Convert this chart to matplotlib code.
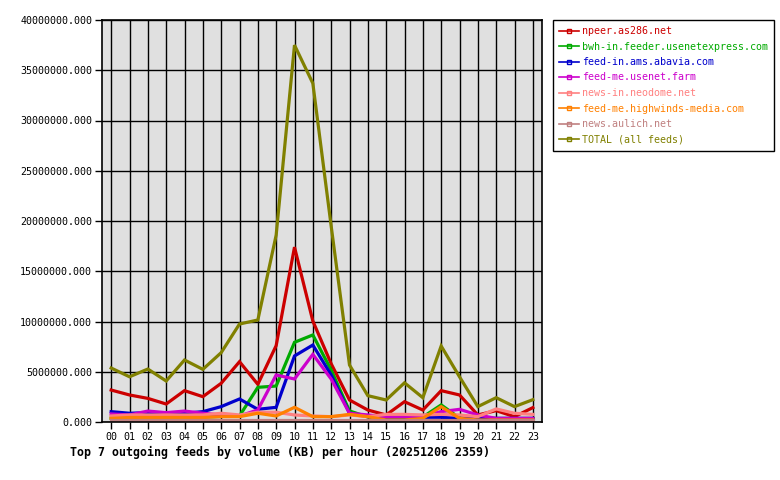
import matplotlib
matplotlib.use("Agg")
import matplotlib.pyplot as plt

hours = ["%02d" % h for h in range(24)]

feeds = [
    "npeer.as286.net",
    "bwh-in.feeder.usenetexpress.com",
    "feed-in.ams.abavia.com",
    "feed-me.usenet.farm",
    "news-in.neodome.net",
    "feed-me.highwinds-media.com",
    "news.aulich.net",
    "TOTAL (all feeds)",
]
colors = ["#cc0000", "#00aa00", "#0000cc", "#cc00cc", "#ff8080", "#ff8000", "#c08080", "#808000"]

npeer = [3.18e6, 2.69e6, 2.35e6, 1.79e6, 3.12e6, 2.52e6, 3.85e6, 6.0e6, 3.75e6, 7.6e6, 17.4e6, 10.05e6,
         5.8e6, 2.19e6, 1.19e6, 0.7e6, 2.02e6, 1.19e6, 3.12e6, 2.69e6, 0.7e6, 1.13e6, 0.53e6, 1.43e6]
bwh = [0.38e6, 0.36e6, 0.36e6, 0.36e6, 0.7e6, 0.5e6, 0.55e6, 0.6e6, 3.45e6, 3.58e6, 7.93e6, 8.66e6,
       5.17e6, 1.1e6, 0.5e6, 0.4e6, 0.45e6, 0.5e6, 1.7e6, 0.4e6, 0.45e6, 0.35e6, 0.35e6, 0.35e6]
abavia = [1.03e6, 0.87e6, 0.93e6, 0.87e6, 0.87e6, 1.03e6, 1.53e6, 2.29e6, 1.26e6, 1.46e6, 6.57e6, 7.66e6,
          4.68e6, 0.87e6, 0.53e6, 0.47e6, 0.5e6, 0.47e6, 0.47e6, 0.36e6, 0.36e6, 0.36e6, 0.36e6, 0.36e6]
usenetfarm = [0.8e6, 0.7e6, 1.09e6, 0.93e6, 1.09e6, 0.87e6, 0.7e6, 0.6e6, 1.2e6, 4.68e6, 4.28e6, 6.73e6,
              4.28e6, 0.87e6, 0.7e6, 0.53e6, 0.53e6, 0.6e6, 1.03e6, 1.26e6, 0.7e6, 0.36e6, 0.36e6, 0.36e6]
neodome = [0.6e6, 0.7e6, 0.7e6, 0.7e6, 0.7e6, 0.7e6, 0.87e6, 0.7e6, 0.97e6, 0.97e6, 0.7e6, 0.6e6,
           0.53e6, 0.7e6, 0.53e6, 0.76e6, 0.76e6, 0.7e6, 0.76e6, 0.7e6, 0.53e6, 1.3e6, 0.87e6, 0.76e6]
highwinds = [0.36e6, 0.45e6, 0.45e6, 0.45e6, 0.45e6, 0.45e6, 0.53e6, 0.53e6, 0.87e6, 0.6e6, 1.46e6, 0.53e6,
             0.53e6, 0.76e6, 0.53e6, 0.2e6, 0.2e6, 0.36e6, 1.53e6, 0.36e6, 0.2e6, 0.2e6, 0.2e6, 0.2e6]
aulich = [0.2e6, 0.2e6, 0.2e6, 0.2e6, 0.2e6, 0.2e6, 0.2e6, 0.2e6, 0.2e6, 0.2e6, 0.2e6, 0.2e6,
          0.2e6, 0.2e6, 0.2e6, 0.2e6, 0.2e6, 0.2e6, 0.2e6, 0.2e6, 0.2e6, 0.2e6, 0.2e6, 0.2e6]
total = [5.37e6, 4.5e6, 5.27e6, 4.08e6, 6.17e6, 5.24e6, 6.9e6, 9.75e6, 10.15e6, 18.6e6, 37.5e6, 33.7e6,
         19.5e6, 5.67e6, 2.62e6, 2.19e6, 3.9e6, 2.42e6, 7.56e6, 4.5e6, 1.53e6, 2.42e6, 1.53e6, 2.22e6]

series = [npeer, bwh, abavia, usenetfarm, neodome, highwinds, aulich, total]

plt.rcParams['font.family'] = ['DejaVu Sans Mono']

fig = plt.figure(figsize=(7.8, 4.8), dpi=100)
ax = fig.add_axes([102 / 780, 58 / 480, 440 / 780, 402 / 480])
ax.set_facecolor("#e0e0e0")

x = list(range(24))
for name, vals, c in zip(feeds, series, colors):
    ax.plot(x, vals, color=c, lw=2.3, solid_joinstyle="miter", label=name)

ax.set_xlim(-0.5, 23.5)
ax.set_ylim(0, 40e6)
ax.set_xticks(x)
ax.set_xticklabels(hours)
yt = [i * 5e6 for i in range(9)]
ax.set_yticks(yt)
ax.set_yticklabels(["%.3f" % v for v in yt])
ax.tick_params(labelsize=7.2, length=5, width=1, color="black", direction="out", pad=2)
ax.grid(True, color="black", lw=1)
ax.set_axisbelow(True)
for s in ax.spines.values():
    s.set_linewidth(1.2)

# legend handles: line with a small square in the middle
leg_handles = [plt.Line2D([0], [0], color=c, lw=1.2, marker="s", markersize=3,
                          markerfacecolor="none", markeredgecolor=c) for c in colors]
leg = fig.legend(leg_handles, feeds, loc="upper left", bbox_to_anchor=(553 / 780, 1 - 20 / 480),
                 fontsize=7.2, frameon=True, fancybox=False, edgecolor="black", framealpha=1,
                 handlelength=2.0, handletextpad=0.3, labelspacing=0.55, borderpad=0.6,
                 borderaxespad=0, labelcolor=colors)
leg.get_frame().set_linewidth(1)

fig.text(70 / 780, 1 - 452 / 480, "Top 7 outgoing feeds by volume (KB) per hour (20251206 2359)",
         fontsize=8.4, fontweight="bold", va="center", ha="left")

fig.savefig("out.png", dpi=100, facecolor="white")
